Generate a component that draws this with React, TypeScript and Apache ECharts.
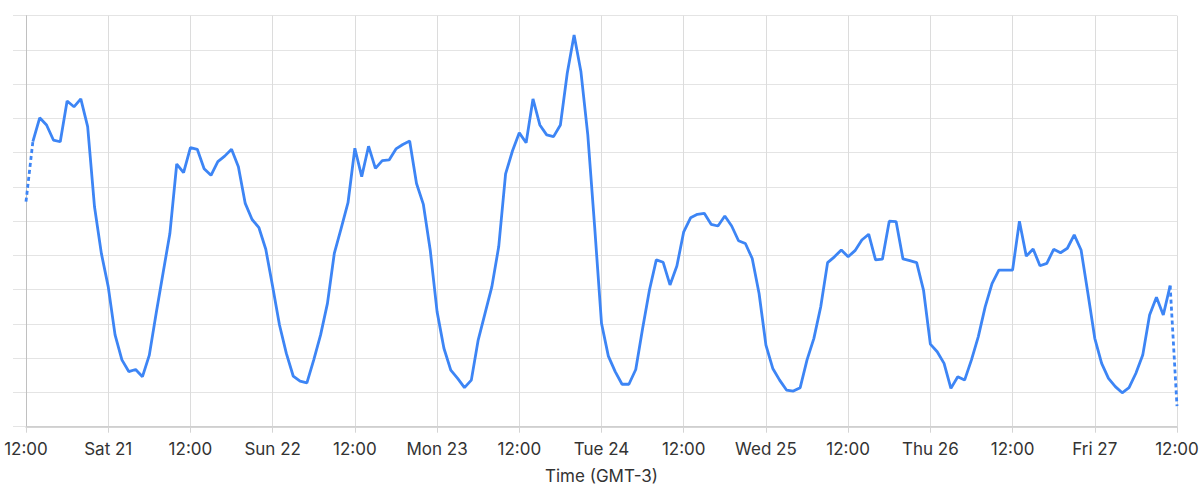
import React, { useEffect, useRef } from "react";
import * as echarts from "echarts";

// Hourly samples, starting Fri 20 12:00 (GMT-3)
const fri20 = [6.57, 8.32, 9.02, 8.81, 8.37, 8.32, 9.51, 9.34, 9.57, 8.76, 6.42, 5.06, 4.09, 2.68, 1.95, 1.61, 1.67, 1.46, 2.09, 3.31, 4.48, 5.64, 7.67, 7.42];
const sat21 = [8.15, 8.1, 7.53, 7.34, 7.74, 7.9, 8.1, 7.59, 6.52, 6.05, 5.81, 5.18, 4.09, 2.97, 2.14, 1.48, 1.33, 1.28, 1.95, 2.68, 3.6, 5.06, 5.79, 6.54];
const sun22 = [8.13, 7.3, 8.19, 7.54, 7.77, 7.79, 8.11, 8.24, 8.34, 7.1, 6.49, 5.16, 3.36, 2.29, 1.65, 1.41, 1.14, 1.36, 2.53, 3.31, 4.09, 5.26, 7.38, 8.05];
const mon23 = [8.58, 8.29, 9.57, 8.81, 8.52, 8.47, 8.81, 10.32, 11.44, 10.36, 8.52, 5.84, 3.02, 2.06, 1.61, 1.24, 1.24, 1.67, 2.87, 3.99, 4.87, 4.8, 4.14, 4.69];
const tue24 = [5.69, 6.1, 6.2, 6.23, 5.91, 5.86, 6.15, 5.86, 5.43, 5.35, 4.91, 3.89, 2.38, 1.7, 1.36, 1.07, 1.04, 1.14, 1.95, 2.58, 3.5, 4.79, 4.96, 5.16];
const wed25 = [4.96, 5.14, 5.45, 5.62, 4.87, 4.89, 6.0, 5.99, 4.9, 4.85, 4.79, 3.99, 2.41, 2.19, 1.85, 1.12, 1.46, 1.36, 1.95, 2.63, 3.5, 4.18, 4.57, 4.57];
const thu26 = [4.57, 6.0, 4.98, 5.19, 4.7, 4.77, 5.18, 5.08, 5.21, 5.6, 5.16, 3.89, 2.58, 1.85, 1.41, 1.17, 0.99, 1.14, 1.56, 2.09, 3.26, 3.78, 3.26, 4.12];
const fri27 = [0.6];

const values = [...fri20, ...sat21, ...sun22, ...mon23, ...tue24, ...wed25, ...thu26, ...fri27];

const tickLabels = ["12:00", "Sat 21", "12:00", "Sun 22", "12:00", "Mon 23", "12:00", "Tue 24", "12:00", "Wed 25", "12:00", "Thu 26", "12:00", "Fri 27", "12:00"];

const axisTitle = "Time (GMT-3)";

export default function App() {
  const ref = useRef<HTMLDivElement>(null);

  useEffect(() => {
    if (!ref.current) return;
    const chart = echarts.init(ref.current, undefined, { renderer: "svg" });
    const n = values.length;
    const solid = values.slice(1, n - 1).map((v, i) => [i + 1, v]);
    const dashStart = [[0, values[0]], [1, values[1]]];
    const dashEnd = [[n - 2, values[n - 2]], [n - 1, values[n - 1]]];
    const color = "#3d85f5";
    const textColor = "#333333";
    const font = "Inter";

    chart.setOption({
      animation: false,
      grid: { left: 26, right: 26, top: 15.7, bottom: 66.3 },
      xAxis: {
        type: "value",
        min: 0,
        max: (tickLabels.length - 1) * 12,
        interval: 12,
        axisLine: { show: true, lineStyle: { color: "#c8c8c8", width: 1.5 } },
        axisTick: { show: true, length: 6, lineStyle: { color: "#d4d4d4" } },
        splitLine: { show: true, lineStyle: { color: "#dcdcdc" } },
        axisLabel: {
          formatter: (v: number) => tickLabels[Math.round(v / 12)],
          color: textColor,
          fontSize: 17,
          fontFamily: font,
          margin: 14,
          showMinLabel: true,
          showMaxLabel: true,
        },
        name: axisTitle,
        nameLocation: "middle",
        nameGap: 41,
        nameTextStyle: { color: textColor, fontSize: 17, fontFamily: font },
      },
      yAxis: {
        type: "value",
        min: 0,
        max: 12,
        interval: 1,
        axisLabel: { show: false },
        axisLine: { show: true, lineStyle: { color: "#c0c0c0" } },
        axisTick: { show: true, length: 13, lineStyle: { color: "#e4e4e4" } },
        splitLine: { show: true, lineStyle: { color: "#e4e4e4" } },
      },
      series: [
        {
          type: "line",
          data: solid,
          symbol: "none",
          lineStyle: { color, width: 2.8 },
          z: 3,
        },
        {
          type: "line",
          data: dashStart,
          symbol: "none",
          lineStyle: { color, width: 2.8, type: [4, 3] },
          z: 3,
        },
        {
          type: "line",
          data: dashEnd,
          symbol: "none",
          lineStyle: { color, width: 2.8, type: [4, 3] },
          z: 3,
        },
      ],
    });
    return () => chart.dispose();
  }, []);

  return (
    <div
      ref={ref}
      style={{ position: "fixed", left: 0, top: 0, width: 1203, height: 493, background: "#ffffff" }}
    />
  );
}
